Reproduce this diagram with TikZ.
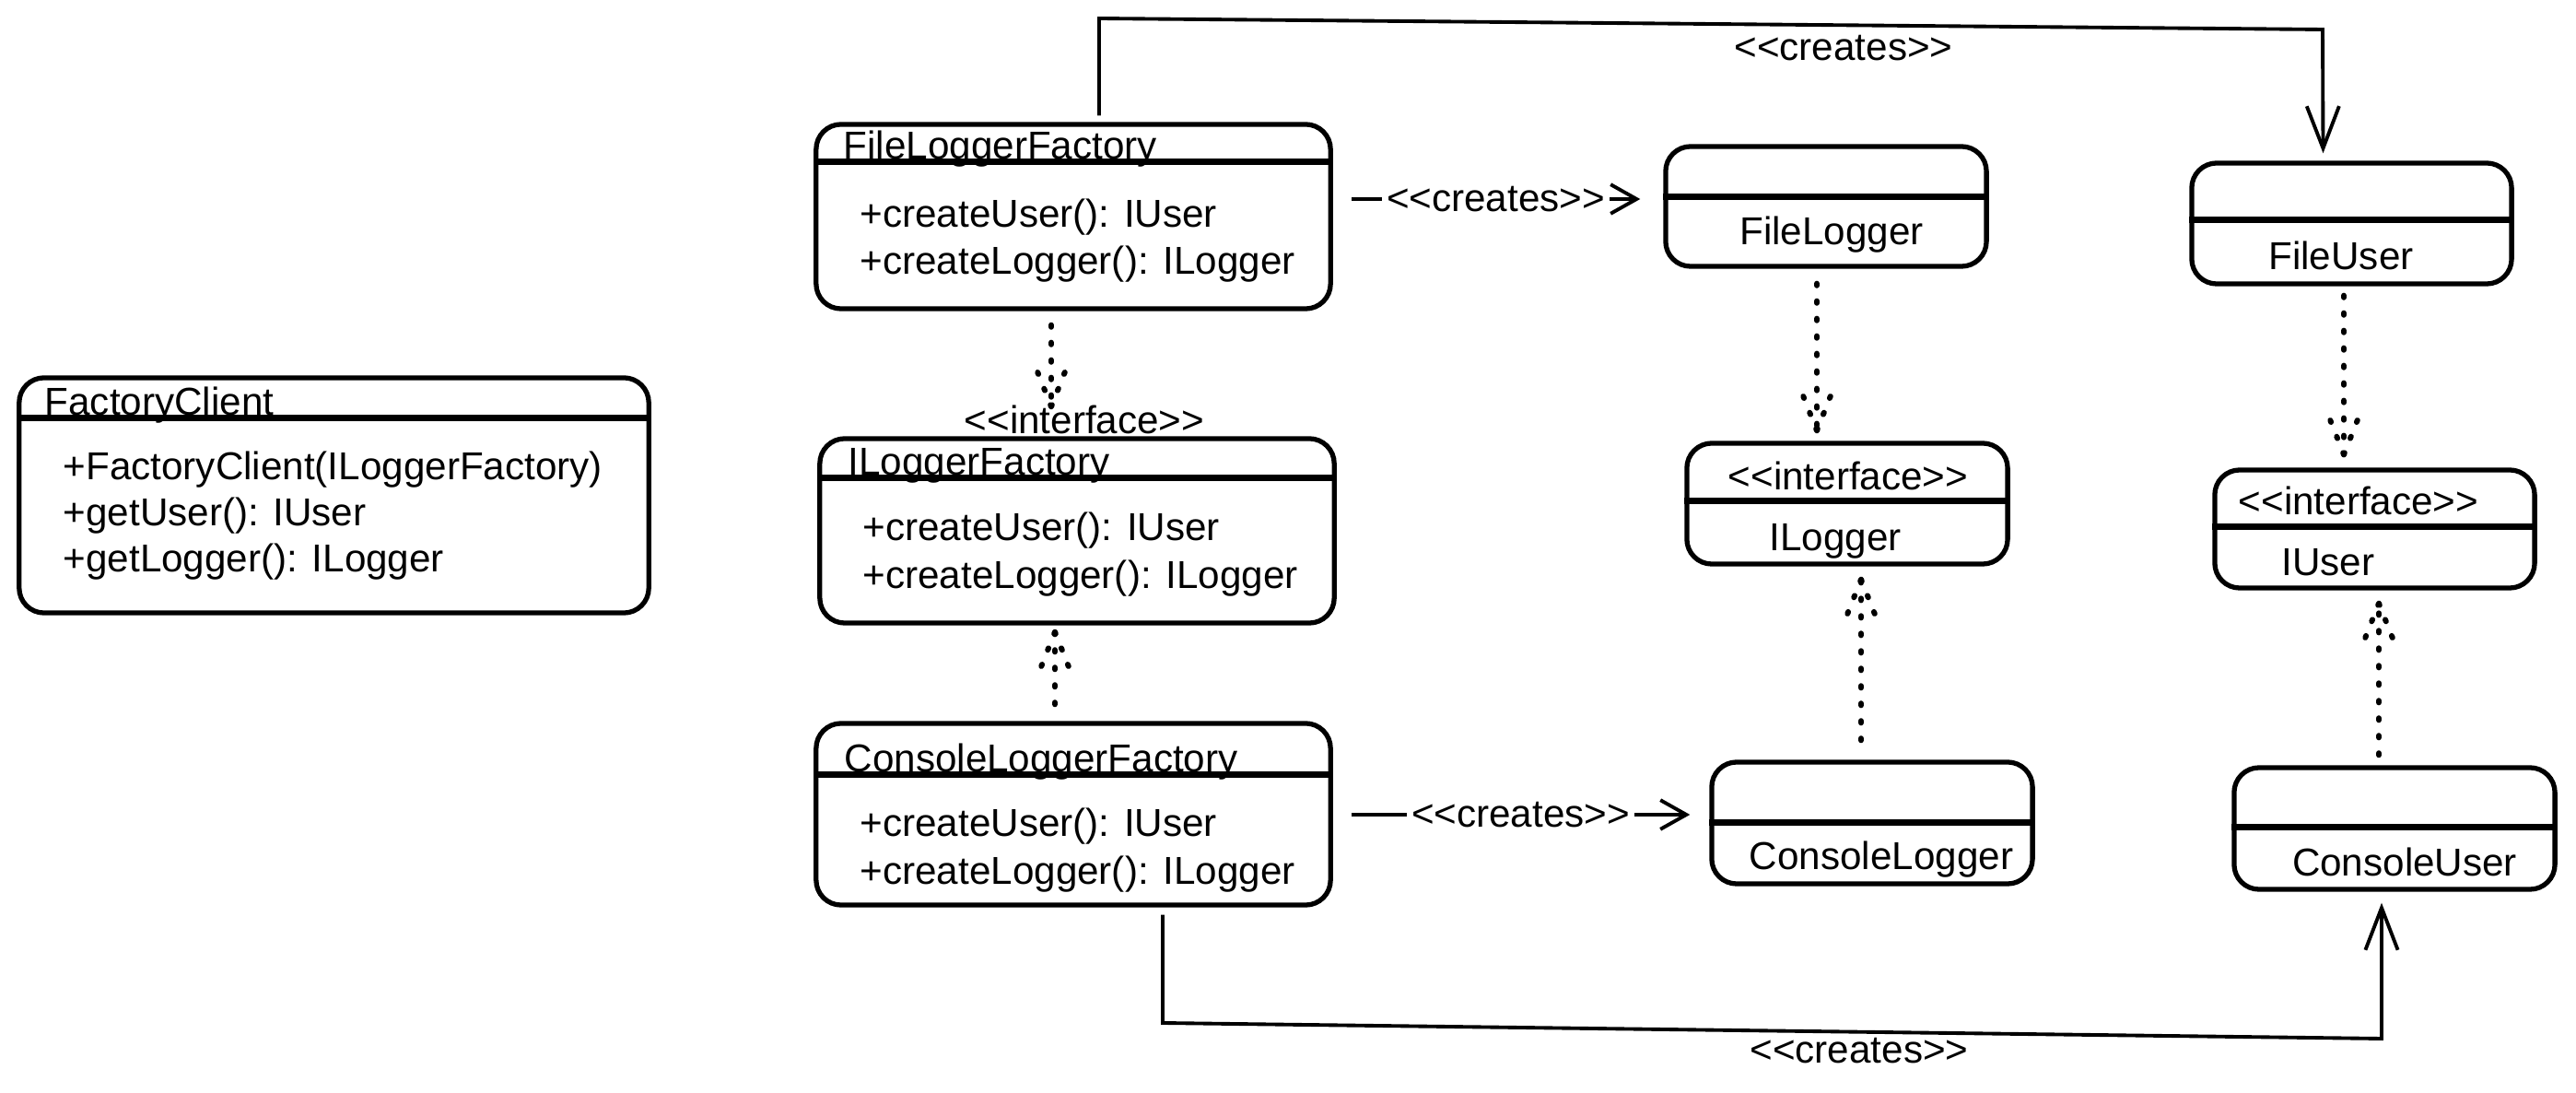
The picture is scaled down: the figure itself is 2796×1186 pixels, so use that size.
\documentclass[tikz,border=0pt]{standalone}
\usepackage{fontspec}
\setmainfont{Liberation Sans}
\usetikzlibrary{arrows.meta,calc}
% guillemet-free stereotype brackets
\newcommand\stereo[1]{<{}<#1>{}>}
% dotted dependency arrow: start, tip, arm offset (vertical)
\newcommand\dotarrow[3]{%
  \draw[dots] (#1) -- (#2);
  \draw[dots] (#2) -- ++(-17,#3) (#2) -- ++(17,#3);}
\begin{document}
\begin{tikzpicture}[x=0.01cm,y=-0.01cm,
  font=\fontsize{12}{14}\selectfont,
  box/.style={draw, line width=1.5pt, rounded corners=0.27cm, inner sep=0},
  sep/.style={line width=2pt},
  txt/.style={inner sep=0, anchor=base west},
  ctr/.style={inner sep=0, anchor=base},
  conn/.style={line width=1.1pt},
  bigtip/.style={-{Straight Barb[length=13pt,width=10pt,line width=1.1pt]}},
  smalltip/.style={-{Straight Barb[length=8pt,width=9pt,line width=1.1pt]}},
  lbl/.style={fill=white, inner sep=1.5pt},
  dots/.style={line width=1.7pt, line cap=round, dash pattern=on 0.6pt off 4.8pt}]

\path[fill=white] (0,0) rectangle (2796,1186);
\useasboundingbox (0,0) rectangle (2796,1186);

% ---------- client ----------
\node[box, minimum width=6.83cm, minimum height=2.55cm] (FC) at (362.5,537.5) {};
\draw[sep] ($(FC.north west)+(0,46)$) -- ($(FC.north east)+(0,46)$);
\node[txt] (FCt) at (48,451) {FactoryClient};
\node[txt] (FCm1) at (68,521) {+FactoryClient(ILoggerFactory)};
\node[txt] (FCm2) at (68,571) {+getUser(): IUser};
\node[txt] (FCm3) at (68,621) {+getLogger(): ILogger};

% ---------- factories ----------
\node[box, minimum width=5.58cm, minimum height=2cm] (FLF) at (1165,235) {};
\draw[sep] ($(FLF.north west)+(0,43)$) -- ($(FLF.north east)+(0,43)$);
\node[txt] (FLFt) at (915,173) {FileLoggerFactory};
\node[txt] (FLFm1) at (933,247) {+createUser(): IUser};
\node[txt] (FLFm2) at (933,298) {+createLogger(): ILogger};

\node[box, minimum width=5.58cm, minimum height=2cm] (ILF) at (1169,576) {};
\draw[sep] ($(ILF.north west)+(0,45)$) -- ($(ILF.north east)+(0,45)$);
\node[ctr] (ILFs) at (1177,471) {\stereo{interface}};
\node[txt] (ILFt) at (920,516) {ILoggerFactory};
\node[txt] (ILFm1) at (936,587) {+createUser(): IUser};
\node[txt] (ILFm2) at (936,639) {+createLogger(): ILogger};

\node[box, minimum width=5.58cm, minimum height=1.97cm] (CLF) at (1165,883.5) {};
\draw[sep] ($(CLF.north west)+(0,58)$) -- ($(CLF.north east)+(0,58)$);
\node[txt] (CLFt) at (916,838) {ConsoleLoggerFactory};
\node[txt] (CLFm1) at (933,908) {+createUser(): IUser};
\node[txt] (CLFm2) at (933,960) {+createLogger(): ILogger};

% ---------- loggers ----------
\node[box, minimum width=3.48cm, minimum height=1.3cm] (FL) at (1982,224) {};
\draw[sep] ($(FL.north west)+(0,57)$) -- ($(FL.north east)+(0,57)$);
\node[ctr] (FLt) at (1988,266) {FileLogger};

\node[box, minimum width=3.48cm, minimum height=1.31cm] (IL) at (2005,546.5) {};
\draw[sep] ($(IL.north west)+(0,65)$) -- ($(IL.north east)+(0,65)$);
\node[ctr] (ILs) at (2006,532) {\stereo{interface}};
\node[ctr] (ILt) at (1992,598) {ILogger};

\node[box, minimum width=3.48cm, minimum height=1.32cm] (CL) at (2032,893) {};
\draw[sep] ($(CL.north west)+(0,68)$) -- ($(CL.north east)+(0,68)$);
\node[ctr] (CLt) at (2042,944) {ConsoleLogger};

% ---------- users ----------
\node[box, minimum width=3.47cm, minimum height=1.31cm] (FU) at (2552.5,242.5) {};
\draw[sep] ($(FU.north west)+(0,64)$) -- ($(FU.north east)+(0,64)$);
\node[ctr] (FUt) at (2541,293) {FileUser};

\node[box, minimum width=3.47cm, minimum height=1.28cm] (IU) at (2577.5,574) {};
\draw[sep] ($(IU.north west)+(0,64)$) -- ($(IU.north east)+(0,64)$);
\node[ctr] (IUs) at (2560,559) {\stereo{interface}};
\node[ctr] (IUt) at (2527,625) {IUser};

\node[box, minimum width=3.48cm, minimum height=1.32cm] (CU) at (2599,899) {};
\draw[sep] ($(CU.north west)+(0,67)$) -- ($(CU.north east)+(0,67)$);
\node[ctr] (CUt) at (2610,951) {ConsoleUser};

% ---------- realisations (dotted) ----------
\dotarrow{$(FLF.south)+(-24,15)$}{$(ILF.north)+(-28,-32)$}{-43}
\dotarrow{$(CLF.north)+(-20,-18)$}{$(ILF.south)+(-24,7)$}{43}
\dotarrow{$(FL.south)+(-10,16)$}{$(IL.north)+(-33,-11)$}{-43}
\dotarrow{$(CL.north)+(-12,-21)$}{$(IL.south)+(15,14)$}{43}
\dotarrow{$(FU.south)+(-8.5,10)$}{$(IU.north)+(-33.5,-14)$}{-43}
\dotarrow{$(CU.north)+(-17,-11)$}{$(IU.south)+(4.5,14)$}{43}

% ---------- creates ----------
\draw[conn, smalltip] ($(FLF.east)+(20,-19)$) -- node[lbl] (cr1) {\stereo{creates}} ($(FL.west)+(-25,-8)$);
\draw[conn, smalltip] ($(CLF.east)+(20,0.5)$) -- node[lbl] (cr2) {\stereo{creates}} ($(CL.west)+(-21,-9)$);

\coordinate (k1) at (1193,20);
\coordinate (k2) at (2521,32);
\draw[conn, bigtip] ($(FLF.north)+(28,-7)$) -- (k1) -- (k2) -- ($(FU.north)+(-31,-8)$);
\node (cr3) at (2001,52) {\stereo{creates}};

\coordinate (k3) at (1262,1110);
\coordinate (k4) at (2585,1127);
\draw[conn, bigtip] ($(CLF.south)+(97,8)$) -- (k3) -- (k4) -- ($(CU.south)+(-14,12)$);
\node (cr4) at (2018,1140) {\stereo{creates}};

\end{tikzpicture}
\end{document}
